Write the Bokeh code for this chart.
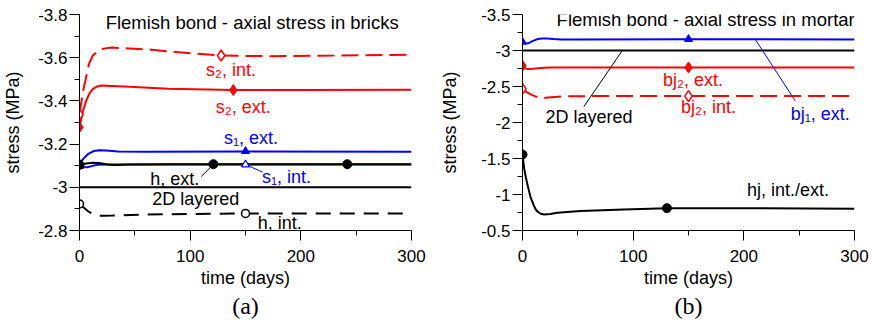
from bokeh.plotting import figure
from bokeh.models import Range1d, FixedTicker, Title
from bokeh.layouts import row
from bokeh.core.properties import value
from bokeh.embed import file_html
from bokeh.resources import INLINE

RED = "#ff0000"
BLUE = "#0000ff"
BLACK = "#000000"

# ---------------- shared axis ticks ----------------
x_ticks = [0, 100, 200, 300]
x_minor = [50, 150, 250]

# ---------------- panel (a): bricks ----------------
a_yticks = [-3.8, -3.6, -3.4, -3.2, -3.0, -2.8]
a_ytick_labels = ["-3.8", "-3.6", "-3.4", "-3.2", "-3", "-2.8"]
a_yminor = [-3.7, -3.5, -3.3, -3.1, -2.9]

t_s2_int = [0, 3, 6, 8.5, 12, 17, 22, 29, 45, 65, 90, 128, 170, 230, 300]
v_s2_int = [-3.337, -3.44, -3.51, -3.57, -3.61, -3.633, -3.642, -3.647, -3.643, -3.637, -3.625, -3.61, -3.607, -3.61, -3.614]

t_s2_ext = [0, 3, 6, 9, 12, 16, 20, 30, 45, 80, 139, 200, 300]
v_s2_ext = [-3.278, -3.35, -3.40, -3.435, -3.455, -3.467, -3.471, -3.469, -3.465, -3.456, -3.45, -3.451, -3.452]

t_s1_ext = [0, 4, 8, 13, 18, 24, 35, 60, 150, 300]
v_s1_ext = [-3.11, -3.135, -3.155, -3.168, -3.172, -3.17, -3.166, -3.165, -3.166, -3.165]

t_s1_int = [0, 4, 7, 11, 16, 25, 40, 150, 300]
v_s1_int = [-3.098, -3.094, -3.093, -3.098, -3.104, -3.106, -3.106, -3.106, -3.106]

t_h_ext = [0, 6, 12, 18, 25, 32, 45, 80, 121, 242, 300]
v_h_ext = [-3.104, -3.11, -3.114, -3.112, -3.106, -3.103, -3.105, -3.107, -3.107, -3.107, -3.107]

t_h_int = [0, 4, 8, 12, 16, 22, 30, 60, 150, 300]
v_h_int = [-2.923, -2.905, -2.888, -2.876, -2.869, -2.868, -2.869, -2.874, -2.879, -2.879]

t_layer_a = [0, 300]
v_layer_a = [-3.0, -3.0]

mk_s2_int_t = [0, 128]
mk_s2_int_v = [-3.337, -3.61]
mk_s2_ext_t = [0, 139]
mk_s2_ext_v = [-3.278, -3.45]
mk_s1_ext_t = [0, 150]
mk_s1_ext_v = [-3.11, -3.167]
mk_s1_int_t = [0, 150]
mk_s1_int_v = [-3.098, -3.105]
mk_h_ext_t = [0, 121, 242]
mk_h_ext_v = [-3.104, -3.107, -3.107]
mk_h_int_t = [0, 150]
mk_h_int_v = [-2.923, -2.879]

a_title = "Flemish bond - axial stress in bricks"
a_title_t, a_title_v = 156, -3.763
a_red_text = ["s\u2082, int.", "s\u2082, ext."]
a_red_t = [137, 148]
a_red_v = [-3.541, -3.374]
a_blue_text = ["s\u2081, ext.", "s\u2081, int."]
a_blue_t = [155, 187]
a_blue_v = [-3.23, -3.05]
a_black_text = ["h, ext.", "2D layered", "h, int."]
a_black_t = [86, 105, 181]
a_black_v = [-3.04, -2.944, -2.834]
a_lead_black_t = [110, 121]
a_lead_black_v = [-3.05, -3.106]
a_lead_blue_t = [152, 165.5]
a_lead_blue_v = [-3.101, -3.07]

# ---------------- panel (b): mortar ----------------
b_yticks = [-3.5, -3.0, -2.5, -2.0, -1.5, -1.0, -0.5]
b_ytick_labels = ["-3.5", "-3", "-2.5", "-2", "-1.5", "-1", "-0.5"]
b_yminor = [-3.25, -2.75, -2.25, -1.75, -1.25, -0.75]

t_bj1_ext = [0, 3, 6, 9, 13, 17, 22, 28, 35, 50, 150, 300]
v_bj1_ext = [-3.12, -3.098, -3.105, -3.13, -3.155, -3.167, -3.167, -3.16, -3.153, -3.152, -3.156, -3.153]

t_bj2_ext = [0, 2, 4.5, 9, 14, 20, 26, 40, 150, 300]
v_bj2_ext = [-2.788, -2.755, -2.742, -2.746, -2.755, -2.761, -2.765, -2.765, -2.765, -2.765]

t_bj2_int = [0, 3, 7.5, 12, 16.5, 21, 26, 35, 60, 150, 300]
v_bj2_int = [-2.468, -2.43, -2.39, -2.36, -2.345, -2.343, -2.352, -2.362, -2.367, -2.367, -2.367]

t_hj = [0, 1.5, 3, 4.5, 6, 7.5, 10, 12, 14, 16.5, 19.5, 25, 31.5, 52.5, 91.5, 130.5, 200, 300]
v_hj = [-1.555, -1.363, -1.24, -1.134, -1.04, -0.952, -0.855, -0.792, -0.757, -0.733, -0.723, -0.73, -0.745, -0.77, -0.792, -0.81, -0.81, -0.803]

t_layer_b = [0, 300]
v_layer_b = [-3.0, -3.0]

mk_bj1_ext_t = [0, 150]
mk_bj1_ext_v = [-3.12, -3.158]
mk_bj2_ext_t = [0, 150]
mk_bj2_ext_v = [-2.788, -2.765]
mk_bj2_int_t = [0, 150]
mk_bj2_int_v = [-2.468, -2.367]
mk_hj_t = [0, 130.5]
mk_hj_v = [-1.555, -0.81]

b_title = "Flemish bond - axial stress in mortar"
b_title_t, b_title_v = 165.5, -3.427
b_red_text = ["bj\u2082, ext.", "bj\u2082, int."]
b_red_t = [154, 168]
b_red_v = [-2.596, -2.21]
b_blue_text = ["bj\u2081, ext."]
b_blue_t = [269]
b_blue_v = [-2.116]
b_black_text = ["2D layered", "hj, int./ext."]
b_black_t = [60, 240]
b_black_v = [-2.075, -1.066]
b_lead_black_t = [55.5, 90.2]
b_lead_black_v = [-2.222, -3.0]
b_lead_blue_t = [210.4, 246.5]
b_lead_blue_v = [-3.153, -2.30]

FONT = "Liberation Sans"


def base_fig(width, yr, yticks, ylabels, yminor, left_border, right_border, bottom_border,
             ylab_standoff, panel, panel_offset):
    p = figure(width=width, height=322, x_range=Range1d(0, 300), y_range=yr,
               output_backend="svg", toolbar_location=None,
               min_border_left=left_border, min_border_right=right_border,
               min_border_top=14, min_border_bottom=bottom_border,
               outline_line_color=None)
    p.grid.visible = False
    p.xaxis.ticker = FixedTicker(ticks=x_ticks, minor_ticks=x_minor)
    p.yaxis.ticker = FixedTicker(ticks=yticks, minor_ticks=yminor)
    p.yaxis.major_label_overrides = dict(zip(yticks, ylabels))
    p.xaxis.axis_label = "time (days)"
    p.yaxis.axis_label = "stress (MPa)"
    for ax in p.axis:
        ax.major_tick_out = 10
        ax.major_tick_in = 0
        ax.minor_tick_out = 5
        ax.minor_tick_in = 0
        ax.axis_line_color = BLACK
        ax.major_tick_line_color = BLACK
        ax.minor_tick_line_color = BLACK
        ax.major_label_text_color = BLACK
        ax.major_label_text_font = FONT
        ax.major_label_text_font_size = "17px"
        ax.axis_label_text_font = FONT
        ax.axis_label_text_font_size = "18px"
        ax.axis_label_text_font_style = "normal"
        ax.axis_label_text_color = BLACK
    p.yaxis.major_label_standoff = 2
    p.xaxis.major_label_standoff = 9
    p.xaxis.axis_label_standoff = 3
    p.yaxis.axis_label_standoff = ylab_standoff
    p.add_layout(Title(text=panel, align="center", offset=panel_offset,
                       text_font="Liberation Serif", text_font_size="24px",
                       text_font_style="normal", text_color=BLACK, standoff=0), "below")
    return p


def texts(p, t, v, txt, color, size="18px"):
    p.text(x=t, y=v, text=txt, text_color=color, text_font=value(FONT),
           text_font_size=size, text_align="center", text_baseline="middle")


# ---------- figure (a) ----------
pa = base_fig(437, Range1d(-2.8, -3.8), a_yticks, a_ytick_labels, a_yminor,
              78, 26, 92, 12, "(a)", -36)
pa.line(t_layer_a, v_layer_a, color=BLACK, line_width=2)
pa.line(t_h_int, v_h_int, color=BLACK, line_width=2, line_dash="15 9")
pa.line(t_s1_int, v_s1_int, color=BLUE, line_width=2)
pa.line(t_h_ext, v_h_ext, color=BLACK, line_width=2)
pa.line(t_s1_ext, v_s1_ext, color=BLUE, line_width=2)
pa.line(t_s2_ext, v_s2_ext, color=RED, line_width=2)
pa.line(t_s2_int, v_s2_int, color=RED, line_width=2, line_dash="17 7")
pa.line(a_lead_black_t, a_lead_black_v, color=BLACK, line_width=1)
pa.line(a_lead_blue_t, a_lead_blue_v, color=BLUE, line_width=1)
pa.scatter(mk_s2_int_t, mk_s2_int_v, marker="diamond", size=11, line_color=RED, fill_color="white", line_width=1.5)
pa.scatter(mk_s2_ext_t, mk_s2_ext_v, marker="diamond", size=11, line_color=RED, fill_color=RED)
pa.scatter(mk_s1_ext_t, mk_s1_ext_v, marker="triangle", size=8, line_color=BLUE, fill_color=BLUE)
pa.scatter(mk_s1_int_t, mk_s1_int_v, marker="triangle", size=8, line_color=BLUE, fill_color="white", line_width=1.2)
pa.scatter(mk_h_int_t, mk_h_int_v, marker="circle", size=8, line_color=BLACK, fill_color="white", line_width=1.5)
pa.scatter(mk_h_ext_t, mk_h_ext_v, marker="circle", size=9, line_color=BLACK, fill_color=BLACK)
texts(pa, [a_title_t], [a_title_v], [a_title], BLACK, "18.5px")
texts(pa, a_red_t, a_red_v, a_red_text, RED)
texts(pa, a_blue_t, a_blue_v, a_blue_text, BLUE)
texts(pa, a_black_t, a_black_v, a_black_text, BLACK)

# ---------- figure (b) ----------
pb = base_fig(438, Range1d(-0.5, -3.5), b_yticks, b_ytick_labels, b_yminor,
              85, 21, 89, 18, "(b)", -33)
pb.line(t_layer_b, v_layer_b, color=BLACK, line_width=2)
pb.line(t_hj, v_hj, color=BLACK, line_width=2)
pb.line(t_bj2_int, v_bj2_int, color=RED, line_width=2, line_dash="17 7")
pb.line(t_bj2_ext, v_bj2_ext, color=RED, line_width=2)
pb.line(t_bj1_ext, v_bj1_ext, color=BLUE, line_width=2)
pb.line(b_lead_black_t, b_lead_black_v, color=BLACK, line_width=1)
pb.line(b_lead_blue_t, b_lead_blue_v, color=BLUE, line_width=1)
pb.scatter(mk_bj1_ext_t, mk_bj1_ext_v, marker="triangle", size=8, line_color=BLUE, fill_color=BLUE)
pb.scatter(mk_bj2_ext_t, mk_bj2_ext_v, marker="diamond", size=11, line_color=RED, fill_color=RED)
pb.scatter(mk_bj2_int_t, mk_bj2_int_v, marker="diamond", size=11, line_color=RED, fill_color="white", line_width=1.5)
pb.scatter(mk_hj_t, mk_hj_v, marker="circle", size=9, line_color=BLACK, fill_color=BLACK)
texts(pb, [b_title_t], [b_title_v], [b_title], BLACK, "18.5px")
texts(pb, b_red_t, b_red_v, b_red_text, RED)
texts(pb, b_blue_t, b_blue_v, b_blue_text, BLUE)
texts(pb, b_black_t, b_black_v, b_black_text, BLACK)

layout = row(pa, pb)
open("out.html", "w").write(file_html(layout, INLINE))
